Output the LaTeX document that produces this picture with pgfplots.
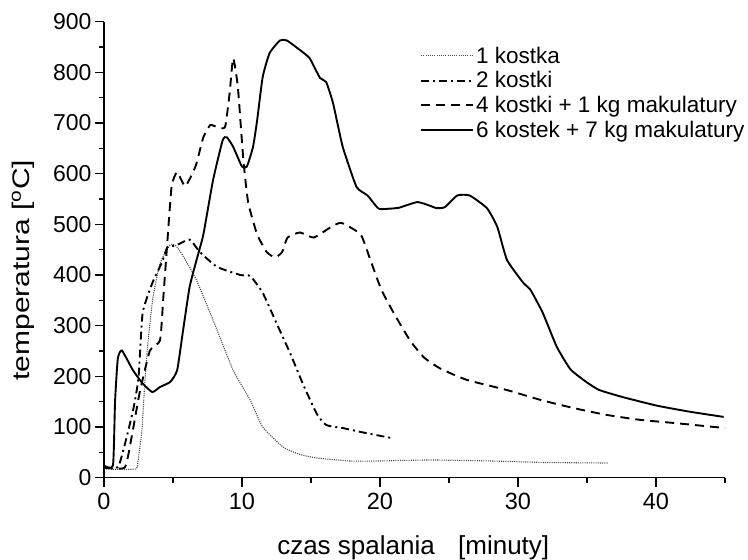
\documentclass[border=0pt]{standalone}
\usepackage{fontspec}
\setmainfont{Liberation Sans}
\usepackage{pgfplots}
\pgfplotsset{compat=1.18}

% Temperature during combustion, one table per charge
\pgfplotstableread{
t T
0 17
2.3 17
2.45 30
2.75 94
2.97 193
3.2 271
3.55 356
4.06 423
4.8 460
5.2 458
5.7 439
6.7 390
8.2 291
9.36 212
10.6 153
11.5 100
13.0 60
14.2 46
15.4 39
17.8 33
20.0 33
23.6 35
28.0 33
32.0 30
36.5 29
}\jedna

\pgfplotstableread{
t T
0 20
1.0 21
1.4 54
2.1 132
2.5 197
2.8 325
3.5 384
4.2 425
4.6 455
5.2 458
6.2 470
6.96 445
8.2 416
9.9 400
10.6 398
11.5 365
12.5 305
13.5 245
14.4 186
15.4 127
16.1 104
17.3 98
19.0 88
20.9 78
}\dwie

\pgfplotstableread{
t T
0 20
1.5 20
2.0 80
2.6 170
3.33 251
4.06 271
4.3 356
4.55 450
4.9 575
5.3 603
5.87 575
6.4 600
6.7 620
7.2 672
7.7 696
8.2 692
8.77 692
9.1 758
9.36 828
9.7 771
10.1 627
10.45 543
11.1 480
11.8 445
12.4 435
12.9 445
13.3 474
14.2 484
15.2 474
16.4 494
17.2 503
18.6 480
19.3 430
20.1 371
21.1 320
22.2 270
23.2 237
24.4 215
26.3 193
29.2 173
31.7 153
34.1 137
36.4 124
38.9 114
41.3 108
45 98
}\cztery

\pgfplotstableread{
t T
0 24
0.65 24
0.8 150
1.0 235
1.3 251
2.1 212
2.8 186
3.5 169
4.06 179
4.8 189
5.3 212
5.7 285
6.2 376
6.7 429
7.2 480
7.9 587
8.6 666
8.9 672
9.36 653
10.0 614
10.35 614
10.8 653
11.1 706
11.5 791
12.0 838
12.75 863
13.25 863
14.2 844
14.9 828
15.65 789
16.1 781
16.6 739
17.3 653
18.3 574
19.1 557
19.9 531
20.7 531
21.4 533
22.7 544
23.6 537
24.1 532
24.7 534
25.6 557
26.5 557
27.75 532
28.5 495
29.2 430
30.4 384
30.9 371
31.8 325
32.8 259
33.8 214
35.0 188
35.9 173
37.6 159
40.1 142
42.5 130
44.9 120
}\szesc

\begin{document}
\begin{tikzpicture}
\path[use as bounding box] (-104pt,-82.3pt) rectangle (644pt,477.7pt);
\begin{axis}[
  at={(0pt,0pt)}, anchor=south west,
  scale only axis, width=621pt, height=456pt,
  xmin=0, xmax=45, ymin=0, ymax=900,
  axis lines=left,
  axis line style={-, line width=1.4pt},
  xtick={0,10,20,30,40}, minor xtick={5,15,25,35,45},
  ytick={0,100,...,900}, minor ytick={50,150,...,850},
  tick align=outside,
  major tick length=9pt, minor tick length=5pt,
  every tick/.style={black, line width=1.3pt},
  /pgf/number format/assume math mode=true,
  xticklabel style={font=\fontsize{23.5}{27}\selectfont},
  yticklabel style={font=\fontsize{23}{26}\selectfont},
  xticklabel shift=3pt,
  yticklabel shift=0pt,
  xlabel={czas spalania\hspace{0.9em}[minuty]},
  ylabel={temperatura [\textsuperscript{o}C]},
  xlabel style={font=\fontsize{26}{30}\selectfont, at={(axis description cs:0.498,-0.153)}, anchor=center},
  ylabel style={font=\fontsize{24}{28}\selectfont, at={(axis description cs:-0.13,0.455)}, anchor=center, xscale=1.25},
  legend style={draw=none, fill=none, at={(axis description cs:0.504,0.954)}, anchor=north west,
    font=\fontsize{22.5}{26}\selectfont, row sep=3pt},
  legend cell align=left,
  legend image code/.code={\draw[#1] (0pt,0pt) -- (52pt,0pt);},
  clip=false,
]
\addplot[black!70, line width=1.1pt, dash pattern=on 1.1pt off 1.1pt, smooth, tension=0.3] table[x=t,y=T] {\jedna};
\addlegendentry{1 kostka}
\addplot[black, line width=1.9pt, dash pattern=on 8pt off 4pt on 2pt off 4pt, smooth, tension=0.3] table[x=t,y=T] {\dwie};
\addlegendentry{2 kostki}
\addplot[black, line width=1.9pt, dash pattern=on 9pt off 6pt, smooth, tension=0.3] table[x=t,y=T] {\cztery};
\addlegendentry{4 kostki + 1 kg makulatury}
\addplot[black, line width=1.9pt, smooth, tension=0.3] table[x=t,y=T] {\szesc};
\addlegendentry{6 kostek + 7 kg makulatury}
\end{axis}
\end{tikzpicture}
\end{document}
